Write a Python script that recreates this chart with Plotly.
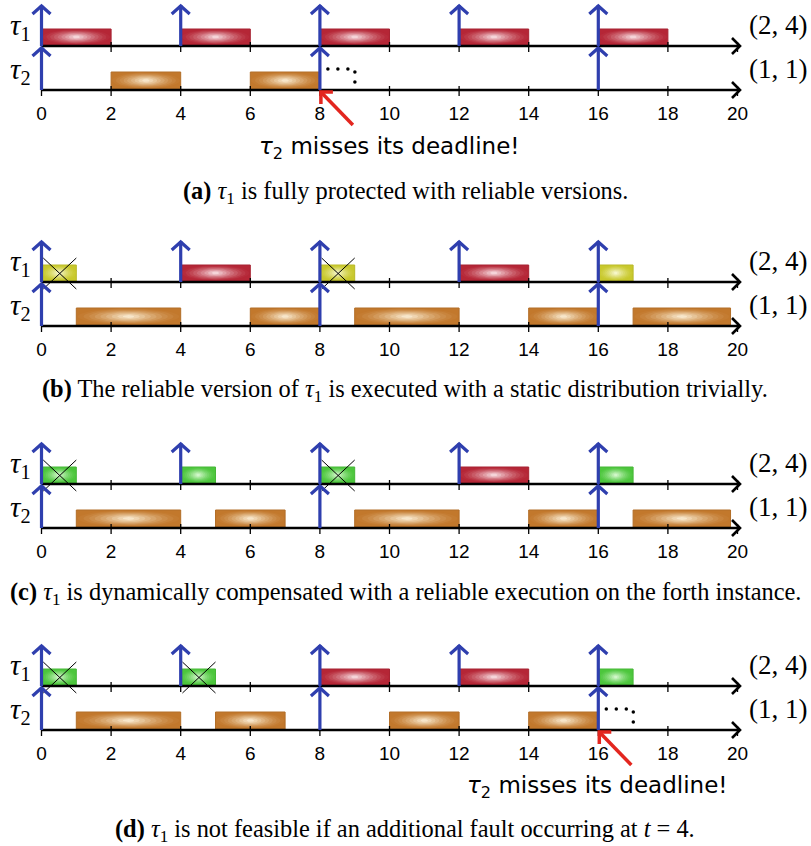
import math
import plotly.graph_objects as go

# ---------------- data ----------------
tick_values = list(range(0, 21, 2))
tick_labels = [str(v) for v in tick_values]
task_params = ["(2, 4)", "(1, 1)"]
tau1_releases = [0, 4, 8, 12, 16]
tau2_releases = [0, 8, 16]

# panel (a)
a_tau1_start = [0, 4, 8, 12, 16]
a_tau1_end = [2, 6, 10, 14, 18]
a_tau1_kind = ["reliable", "reliable", "reliable", "reliable", "reliable"]
a_tau2_start = [2, 6]
a_tau2_end = [4, 8]
a_faults = []
a_miss = 8

# panel (b)
b_tau1_start = [0, 4, 8, 12, 16]
b_tau1_end = [1, 6, 9, 14, 17]
b_tau1_kind = ["static", "reliable", "static", "reliable", "static"]
b_tau2_start = [1, 6, 9, 14, 17]
b_tau2_end = [4, 8, 12, 16, 19.8]
b_faults = [0, 8]
b_miss = None

# panel (c)
c_tau1_start = [0, 4, 8, 12, 16]
c_tau1_end = [1, 5, 9, 14, 17]
c_tau1_kind = ["primary", "primary", "primary", "reliable", "primary"]
c_tau2_start = [1, 5, 9, 14, 17]
c_tau2_end = [4, 7, 12, 16, 19.8]
c_faults = [0, 8]
c_miss = None

# panel (d)
d_tau1_start = [0, 4, 8, 12, 16]
d_tau1_end = [1, 5, 10, 14, 17]
d_tau1_kind = ["primary", "primary", "reliable", "reliable", "primary"]
d_tau2_start = [1, 5, 10, 14]
d_tau2_end = [4, 7, 12, 16]
d_faults = [0, 4]
d_miss = 16

captions = [
    "<b>(a)</b> <i>τ</i><sub>1</sub> is fully protected with reliable versions.",
    "<b>(b)</b> The reliable version of <i>τ</i><sub>1</sub> is executed with a static distribution trivially.",
    "<b>(c)</b> <i>τ</i><sub>1</sub> is dynamically compensated with a reliable execution on the forth instance.",
    "<b>(d)</b> <i>τ</i><sub>1</sub> is not feasible if an additional fault occurring at <i>t</i> = 4.",
]
miss_text = "<i>τ</i><sub>2</sub> misses its deadline!"

# ---------------- style ----------------
W, H = 811, 846
X0_PX, UNIT = 41.5, 34.8
BLUE = "#2f3fae"
RED_ARROW = "#e3261f"
COLORS = {
    "reliable": ((181, 38, 54), (248, 222, 226)),
    "static": ((200, 200, 44), (248, 248, 208)),
    "primary": ((76, 198, 60), (216, 248, 208)),
    "tau2": ((194, 120, 44), (250, 236, 210)),
}
panel_base = [46, 282, 484, 686]   # tau1 axis pixel row
ROW_GAP = 44
caption_y = [192, 390, 593, 830]
miss_text_pos = [(389, 148), None, None, (597, 787)]

def dx(px):
    return px / UNIT

def px2x(px):
    return (px - X0_PX) / UNIT

def rgb(c):
    return "rgb(%d,%d,%d)" % tuple(int(round(v)) for v in c)

def mix(a, b, t):
    return tuple(a[i] + (b[i] - a[i]) * t for i in range(3))

fig = go.Figure()

def line(xs, ys, color, width):
    fig.add_trace(go.Scatter(x=xs, y=ys, mode="lines",
                             line=dict(color=color, width=width),
                             hoverinfo="skip", showlegend=False))

def poly(xs, ys, color, lcolor=None, lw=0):
    fig.add_trace(go.Scatter(x=xs, y=ys, mode="lines", fill="toself", fillcolor=color,
                             line=dict(color=lcolor or color, width=lw),
                             hoverinfo="skip", showlegend=False))

def bar(s, e, axis_y, height, kind):
    dark, light = COLORS[kind]
    top, bot = axis_y - height, axis_y - 1
    poly([s, e, e, s, s], [top, top, bot, bot, top], rgb(dark), rgb(mix(dark, (0, 0, 0), 0.08)), 1)
    cx, cy = (s + e) / 2, (top + bot) / 2
    a0, b0 = (e - s) / 2 * 0.97, (bot - top) / 2 * 0.95
    n = 9
    for k in range(1, n + 1):
        f = 1 - (k - 1) / n
        t = (k / n) ** 1.5
        xs = [cx + a0 * f * math.cos(2 * math.pi * i / 36) for i in range(37)]
        ys = [cy + b0 * f ** 0.8 * math.sin(2 * math.pi * i / 36) for i in range(37)]
        poly(xs, ys, rgb(mix(dark, light, t * 0.95)))

def up_arrow(x, y_from, y_to):
    line([x, x], [y_from, y_to], BLUE, 3.2)
    line([x - dx(9), x, x + dx(9)], [y_to + 9, y_to + 1, y_to + 9], BLUE, 3.2)

panels = [
    (a_tau1_start, a_tau1_end, a_tau1_kind, a_tau2_start, a_tau2_end, a_faults, a_miss),
    (b_tau1_start, b_tau1_end, b_tau1_kind, b_tau2_start, b_tau2_end, b_faults, b_miss),
    (c_tau1_start, c_tau1_end, c_tau1_kind, c_tau2_start, c_tau2_end, c_faults, c_miss),
    (d_tau1_start, d_tau1_end, d_tau1_kind, d_tau2_start, d_tau2_end, d_faults, d_miss),
]

annotations = []
x_end = px2x(740)

for p, (t1s, t1e, t1k, t2s, t2e, faults, miss) in enumerate(panels):
    y1 = panel_base[p]
    y2 = y1 + ROW_GAP
    for s, e, k in zip(t1s, t1e, t1k):
        bar(s, e, y1, 17, k)
    for s, e in zip(t2s, t2e):
        bar(s, e, y2, 18, "tau2")
    for ya in (y1, y2):
        for t in tick_values:
            line([t, t], [ya - 4, ya + 6], "black", 1.3)
        line([0, x_end], [ya, ya], "black", 2.6)
        line([x_end - dx(8), x_end, x_end - dx(8)], [ya - 8, ya, ya + 8], "black", 2.6)
    for f in faults:
        idx = t1s.index(f)
        s, e = t1s[idx], t1e[idx]
        line([s + 0.05, e], [y1 - 24, y1 + 7], "black", 1)
        line([e, s + 0.05], [y1 - 24, y1 + 7], "black", 1)
    for r in tau2_releases:
        up_arrow(r, y2, y1 + 1)
    for r in tau1_releases:
        up_arrow(r, y1, y1 - 41)
    if miss is not None:
        fig.add_trace(go.Scatter(
            x=[miss + dx(8), miss + dx(18), miss + dx(28), miss + dx(35), miss + dx(35)],
            y=[y2 - 21, y2 - 21, y2 - 21, y2 - 18, y2 - 8], mode="markers",
            marker=dict(color="black", size=3.5), hoverinfo="skip", showlegend=False))
        tipx, tipy = miss + dx(1), y2 + 2
        line([miss + dx(33), tipx], [y2 + 35, tipy], RED_ARROW, 3.5)
        line([tipx + dx(12), tipx, tipx], [tipy, tipy, tipy + 12], RED_ARROW, 3.5)
        mx, my = miss_text_pos[p]
        annotations.append(dict(x=px2x(mx), y=my, text=miss_text,
                                showarrow=False, xanchor="center", yanchor="middle",
                                font=dict(family="DejaVu Sans", size=23, color="black")))
    fig.add_trace(go.Scatter(x=tick_values, y=[y1 + 69] * len(tick_values), mode="text",
                             text=tick_labels, textposition="middle center",
                             textfont=dict(family="Liberation Sans", size=19, color="black"),
                             hoverinfo="skip", showlegend=False))
    for k, ya in enumerate((y1, y2)):
        annotations.append(dict(x=px2x(20), y=ya - 19,
                                text="<i>τ</i><sub>%d</sub>" % (k + 1), showarrow=False,
                                xanchor="center", yanchor="middle",
                                font=dict(family="Liberation Serif", size=29, color="black")))
        annotations.append(dict(x=px2x(778), y=ya - 21, text=task_params[k], showarrow=False,
                                xanchor="center", yanchor="middle",
                                font=dict(family="Liberation Serif", size=27, color="black")))
    annotations.append(dict(x=px2x(405), y=caption_y[p], text=captions[p], showarrow=False,
                            xanchor="center", yanchor="middle",
                            font=dict(family="Liberation Serif", size=24.4, color="black")))

fig.update_layout(
    width=W, height=H, margin=dict(l=0, r=0, t=0, b=0),
    paper_bgcolor="white", plot_bgcolor="white", showlegend=False,
    xaxis=dict(range=[px2x(0), px2x(W)], visible=False, fixedrange=True),
    yaxis=dict(range=[H, 0], visible=False, fixedrange=True),
    annotations=annotations,
)
fig.write_html("out.html", config={"displayModeBar": False},
               post_script="document.body.style.margin='0';document.body.style.overflow='hidden';")
